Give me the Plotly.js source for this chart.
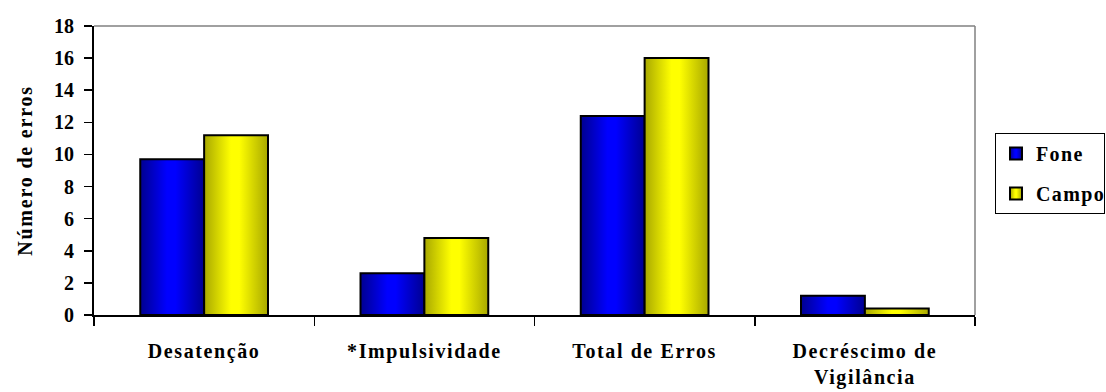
<!DOCTYPE html>
<html>
<head>
<meta charset="utf-8">
<script src="https://cdn.plot.ly/plotly-3.0.1.min.js"></script>
<style>
html,body{margin:0;padding:0;background:#fff;}
#chart{width:1106px;height:392px;}
#chart .xtick text{letter-spacing:1.6px;}
#chart .ytitle{letter-spacing:1.8px;}
#chart .legendtext{letter-spacing:1.4px;}
</style>
</head>
<body>
<div id="chart"></div>
<script>
const categories = ["Desatenção", "*Impulsividade", "Total de Erros", "Decréscimo de<br>Vigilância"];
const foneValues = [9.7, 2.6, 12.4, 1.2];
const campoValues = [11.2, 4.8, 16.0, 0.4];
const yTicks = [0, 2, 4, 6, 8, 10, 12, 14, 16, 18];

const FONT = "Liberation Serif";

const traces = [
  {type: "bar", name: "Fone", x: categories, y: foneValues, legendgroup: "a",
   marker: {color: "#0000FF", line: {color: "#000", width: 2}}, hoverinfo: "skip"},
  {type: "bar", name: "Campo", x: categories, y: campoValues, legendgroup: "b",
   marker: {color: "#FFFF00", line: {color: "#000", width: 2}}, hoverinfo: "skip"}
];

const layout = {
  width: 1106, height: 392,
  margin: {l: 94, r: 131, t: 26, b: 77, autoexpand: false},
  paper_bgcolor: "#fff", plot_bgcolor: "#fff",
  font: {family: FONT, size: 20, color: "#000", weight: 700},
  barmode: "group", bargap: 0.42, bargroupgap: 0,
  showlegend: true,
  legend: {x: 1.0227, y: 0.63, xanchor: "left", yanchor: "top",
           bordercolor: "#000", borderwidth: 1, bgcolor: "#fff",
           font: {family: FONT, size: 20, color: "#000", weight: 700},
           itemwidth: 30, tracegroupgap: 11},
  xaxis: {type: "category", showline: true, linecolor: "#000", linewidth: 2,
          ticks: "outside", tickson: "boundaries", ticklen: 9, tickwidth: 1.5, tickcolor: "#000",
          tickfont: {family: FONT, size: 20, color: "#000", weight: 700},
          showgrid: false, zeroline: false, fixedrange: true, ticklabelstandoff: 17},
  yaxis: {range: [0, 18], tickvals: yTicks, ticktext: yTicks.map(String),
          showline: true, linecolor: "#000", linewidth: 2,
          ticks: "outside", ticklen: 8, tickwidth: 1.5, tickcolor: "#000",
          tickfont: {family: FONT, size: 20, color: "#000", weight: 700},
          showgrid: false, zeroline: false, fixedrange: true, ticklabelstandoff: 6,
          title: {text: "Número de erros", font: {family: FONT, size: 20, color: "#000", weight: 700}, standoff: 16}},
  shapes: [
    {type: "line", xref: "paper", yref: "paper", x0: 0, x1: 1, y0: 1, y1: 1, line: {color: "#808080", width: 1.5}},
    {type: "line", xref: "paper", yref: "paper", x0: 1, x1: 1, y0: 0, y1: 1, line: {color: "#808080", width: 1.5}}
  ]
};

function addGradients(gd) {
  const svg = gd.querySelector("svg.main-svg");
  if (!svg) return;
  const ns = "http://www.w3.org/2000/svg";
  let defs = svg.querySelector("defs");
  if (!defs) { defs = document.createElementNS(ns, "defs"); svg.insertBefore(defs, svg.firstChild); }
  function grad(id, dark, bright) {
    const g = document.createElementNS(ns, "linearGradient");
    g.setAttribute("id", id);
    g.setAttribute("x1", "0"); g.setAttribute("x2", "1"); g.setAttribute("y1", "0"); g.setAttribute("y2", "0");
    [[0, dark], [0.42, bright], [0.55, bright], [1, dark]].forEach(([o, c]) => {
      const s = document.createElementNS(ns, "stop");
      s.setAttribute("offset", o); s.setAttribute("stop-color", c);
      g.appendChild(s);
    });
    defs.appendChild(g);
  }
  grad("gradBlue", "#000090", "#0000FF");
  grad("gradYellow", "#A8A800", "#FFFF00");
  const ids = ["gradBlue", "gradYellow"];
  gd.querySelectorAll("g.trace.bars").forEach((t, i) => {
    t.querySelectorAll("path").forEach(p => { p.style.fill = "url(#" + ids[i % 2] + ")"; });
  });
  gd.querySelectorAll("g.legend g.traces").forEach((t, i) => {
    t.querySelectorAll("g.legendpoints path").forEach(p => { p.style.fill = "url(#" + ids[i % 2] + ")"; });
  });
}

Plotly.newPlot("chart", traces, layout, {displayModeBar: false, staticPlot: true}).then(addGradients);
</script>
</body>
</html>
